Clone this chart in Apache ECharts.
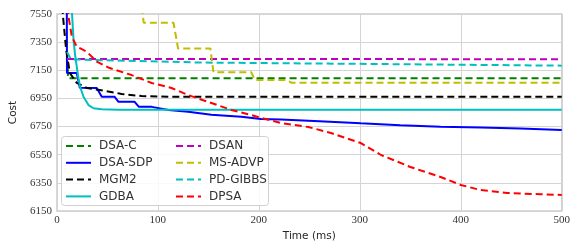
<!DOCTYPE html>
<html>
<head>
<meta charset="utf-8">
<script src="https://cdn.jsdelivr.net/npm/echarts@6/dist/echarts.min.js"></script>
<style>
  html, body { margin: 0; padding: 0; background: #fff; }
  #chart { width: 573px; height: 247px; }
</style>
</head>
<body>
<div id="chart"></div>
<script>
// cost vs time as [time ms, cost]
const xTicks = [0, 100, 200, 300, 400, 500];
const yTicks = [6150, 6350, 6550, 6750, 6950, 7150, 7350, 7550];

const dsaC = [[10.8, 7160], [11, 7093], [500, 7093]];
const dsaSdp = [[9.8, 7600], [10, 7130], [19.7, 7130], [22.7, 7026], [39.5, 7024], [44.4, 6962],
  [57, 6962], [61, 6926], [77, 6926], [81, 6891], [94, 6890], [110.5, 6868], [130, 6856],
  [153, 6834], [182.6, 6820], [202, 6803], [222, 6800], [260, 6788], [301, 6773], [340, 6760],
  [380, 6749], [420, 6743], [459, 6737], [500, 6726]];
const mgm2 = [[5.5, 7600], [5.9, 7543], [9.2, 7294], [12.8, 7131], [19.7, 7060], [29.6, 7024],
  [42.4, 7010], [59.2, 6989], [64, 6981], [84, 6967], [110.5, 6962], [500, 6962]];
const gdba = [[14.6, 7600], [16.5, 7365], [18, 7260], [19.7, 7175], [21.3, 7095], [23, 7033],
  [26.3, 6962], [31.3, 6903], [36.2, 6880], [44.4, 6873], [60, 6870], [500, 6870]];
const dsan = [[10, 7230], [500, 7229]];
const msAdvp = [[84, 7600], [86, 7488], [115.5, 7488], [120, 7305], [152, 7305], [155, 7136],
  [192.5, 7136], [196, 7081], [228, 7081], [232, 7062], [500, 7062]];
const pdGibbs = [[10, 7280], [14, 7228], [44, 7222], [143, 7205], [310, 7195], [500, 7183]];
const dpsa = [[11, 7600], [11.5, 7531], [14.8, 7389], [19.7, 7318], [29.6, 7282], [39.5, 7211],
  [52.3, 7166], [74, 7116], [93.8, 7060], [113.5, 7024], [130, 6974], [150, 6925],
  [172.8, 6868], [192.5, 6832], [202.4, 6811], [222, 6775], [249, 6747], [271.5, 6704],
  [301, 6633], [321, 6548], [350, 6463], [380, 6392], [400, 6335], [419.5, 6299],
  [446, 6278], [479, 6269], [500, 6264]];

const legendLeft = ['DSA-C', 'DSA-SDP', 'MGM2', 'GDBA'];
const legendRight = ['DSAN', 'MS-ADVP', 'PD-GIBBS', 'DPSA'];

function line(name, data, color, dashed) {
  return {
    name: name,
    type: 'line',
    data: data,
    symbol: 'none',
    animation: false,
    lineStyle: { color: color, width: 2, type: dashed ? [7, 4] : 'solid' },
    itemStyle: { color: color }
  };
}

const series = [
  line('DSA-C', dsaC, '#008000', true),
  line('DSA-SDP', dsaSdp, '#0000ff', false),
  line('MGM2', mgm2, '#000000', true),
  line('GDBA', gdba, '#00bfbf', false),
  line('DSAN', dsan, '#bf00bf', true),
  line('MS-ADVP', msAdvp, '#bfbf00', true),
  line('PD-GIBBS', pdGibbs, '#00bfbf', true),
  line('DPSA', dpsa, '#ff0000', true)
];

const legendCommon = {
  orient: 'vertical',
  itemWidth: 25,
  itemHeight: 10,
  itemGap: 4.8,
  padding: 0,
  itemStyle: { opacity: 0 },
  textStyle: { fontFamily: 'DejaVu Sans', fontSize: 12, color: '#333', padding: [0, 0, 0, 3] }
};

const chart = echarts.init(document.getElementById('chart'), null, { renderer: 'canvas' });
chart.setOption({
  backgroundColor: '#fff',
  animation: false,
  grid: {
    left: 55, top: 14, width: 507, height: 197,
    show: true, borderColor: '#cccccc', borderWidth: 1.3, backgroundColor: 'transparent'
  },
  xAxis: {
    type: 'value', min: 0, max: 500, interval: 100,
    name: 'Time (ms)', nameLocation: 'middle', nameGap: 20,
    nameTextStyle: { fontFamily: 'DejaVu Sans', fontSize: 10.5, color: '#262626' },
    axisLine: { show: false }, axisTick: { show: false },
    axisLabel: { fontFamily: 'Liberation Serif', fontSize: 11, color: '#333', margin: 4 },
    splitLine: { show: true, lineStyle: { color: '#d4d4d4', width: 1 } }
  },
  yAxis: {
    type: 'value', min: 6150, max: 7550,
    name: 'Cost', nameLocation: 'middle', nameGap: 35,
    nameTextStyle: { fontFamily: 'DejaVu Sans', fontSize: 10.5, color: '#262626' },
    axisLine: { show: false },
    axisTick: { show: false, customValues: yTicks },
    axisLabel: {
      fontFamily: 'Liberation Serif', fontSize: 11, color: '#333', margin: 5,
      customValues: yTicks, formatter: function (v) { return String(v); }
    },
    splitLine: { show: true, lineStyle: { color: '#d4d4d4', width: 1 } }
  },
  graphic: [{
    type: 'rect', left: 61, top: 136, z: 10,
    shape: { width: 207, height: 69, r: 3 },
    style: { fill: 'rgba(255,255,255,0.85)', stroke: '#d0d0d0', lineWidth: 1 }
  }],
  legend: [
    Object.assign({ data: legendLeft, left: 65, top: 140, z: 20 }, legendCommon),
    Object.assign({ data: legendRight, left: 175, top: 140, z: 20 }, legendCommon)
  ],
  series: series
});
</script>
</body>
</html>
